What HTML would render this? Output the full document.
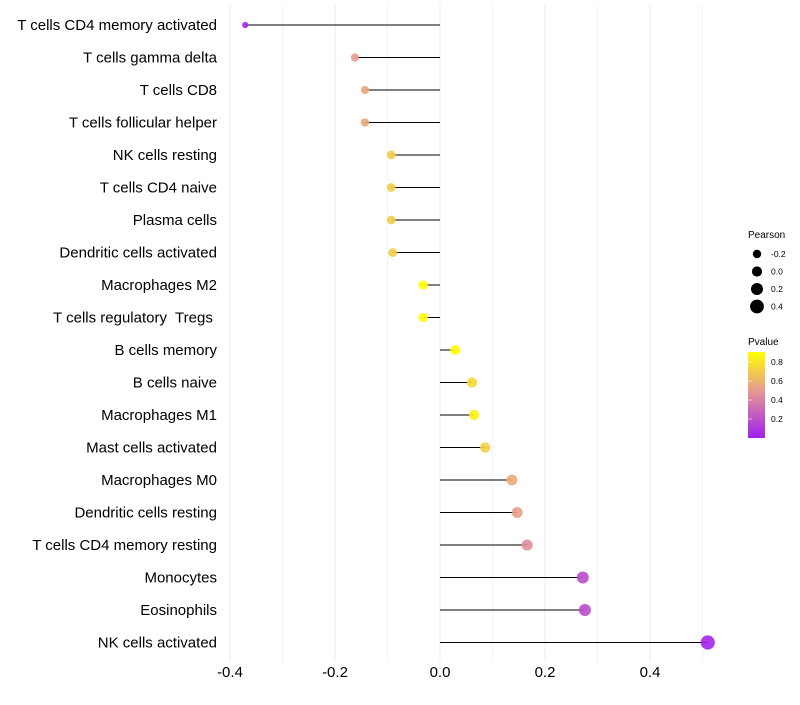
<!DOCTYPE html>
<html><head><meta charset="utf-8"><style>
body{margin:0;background:#fff;font-family:"Liberation Sans",sans-serif;}
text{white-space:pre;}
</style></head><body>
<svg id="chart" width="800" height="700" xmlns="http://www.w3.org/2000/svg">
<defs><linearGradient id="pg" x1="0" y1="1" x2="0" y2="0">
<stop offset="0" stop-color="#a020f0"/><stop offset="0.55" stop-color="#e59a90"/><stop offset="1" stop-color="#ffff00"/></linearGradient></defs>
<g id="grid"></g><g id="marks"></g><g id="ylab"></g><g id="xlab"></g>
<g font-size="10" fill="#000">
<text x="748" y="238">Pearson</text>
<g id="sizeleg"></g>
<text x="748" y="345">Pvalue</text>
<rect x="748" y="352" width="17" height="86" fill="url(#pg)"/>
<g id="colleg"></g>
</g>
</svg>
<script>
const categories=["T cells CD4 memory activated","T cells gamma delta","T cells CD8","T cells follicular helper","NK cells resting","T cells CD4 naive","Plasma cells","Dendritic cells activated","Macrophages M2","T cells regulatory  Tregs ","B cells memory","B cells naive","Macrophages M1","Mast cells activated","Macrophages M0","Dendritic cells resting","T cells CD4 memory resting","Monocytes","Eosinophils","NK cells activated"];
const pearson=[-0.371,-0.162,-0.143,-0.143,-0.093,-0.093,-0.093,-0.09,-0.032,-0.032,0.029,0.061,0.065,0.086,0.137,0.147,0.166,0.272,0.276,0.51];
const pvalue=[0.03,0.5,0.55,0.55,0.7,0.7,0.7,0.7,0.9,0.9,0.9,0.75,0.85,0.72,0.57,0.52,0.45,0.18,0.18,0.02];
const xTicks=[-0.4,-0.2,0.0,0.2,0.4];
const sizeTicks=[-0.2,0.0,0.2,0.4];
const colTicks=[0.2,0.4,0.6,0.8];
const NS="http://www.w3.org/2000/svg";
const X=v=>440+v*525;
const Y=i=>25+i*32.5;
const R=v=>Math.max(1.5,4.8+4.5*v);
function col(p){const t=Math.min(1,Math.max(0,p/0.905));
 const a=[160,32,240],m=[229,154,144],b=[255,255,0];let c;
 if(t<0.55){const u=t/0.55;c=a.map((x,k)=>x+(m[k]-x)*u);}else{const u=(t-0.55)/0.45;c=m.map((x,k)=>x+(b[k]-x)*u);}
 return `rgb(${c.map(Math.round).join(',')})`;}
function el(tag,attrs,parent,text){const e=document.createElementNS(NS,tag);for(const k in attrs)e.setAttribute(k,attrs[k]);if(text!==undefined)e.textContent=text;document.getElementById(parent).appendChild(e);return e;}
for(let v=-0.4;v<=0.5001;v+=0.1){const g=el('line',{x1:X(v),x2:X(v),y1:5,y2:662,stroke:Math.abs(Math.round(v*10))%2==0?'#ebebeb':'#f4f4f4','stroke-width':1},'grid');

}
categories.forEach((c,i)=>{
 const l=el('line',{x1:X(0),x2:X(pearson[i]),y1:Y(i),y2:Y(i),stroke:'#000','stroke-width':1},'marks');
 
 
 const p=el('circle',{cx:X(pearson[i]),cy:Y(i),r:R(pearson[i]),fill:col(pvalue[i]),'fill-opacity':0.9},'marks');
 
 
 const t=el('text',{x:217,y:Y(i)+5,'text-anchor':'end','font-size':15,fill:'#000'},'ylab',c);
 
 
});
xTicks.forEach(v=>{const t=el('text',{x:X(v),y:677,'text-anchor':'middle','font-size':15,fill:'#000'},'xlab',v.toFixed(1));
 
 });
sizeTicks.forEach((v,i)=>{const y=254+i*17.5;
 const c=el('circle',{cx:757,cy:y,r:R(v)+0.3,fill:'#000'},'sizeleg');
 
 
 const t=el('text',{x:771,y:y+3,'font-size':8.5},'sizeleg',v.toFixed(1));
 
 });
colTicks.forEach(v=>{const y=438-v*(86/0.905);
 const t=el('text',{x:771,y:y+3,'font-size':8.5},'colleg',v.toFixed(1));
 
 
 const k=el('line',{x1:748,x2:752,y1:y,y2:y,stroke:'#fff','stroke-width':0.6},'colleg');
 
 });
</script>
</body></html>
